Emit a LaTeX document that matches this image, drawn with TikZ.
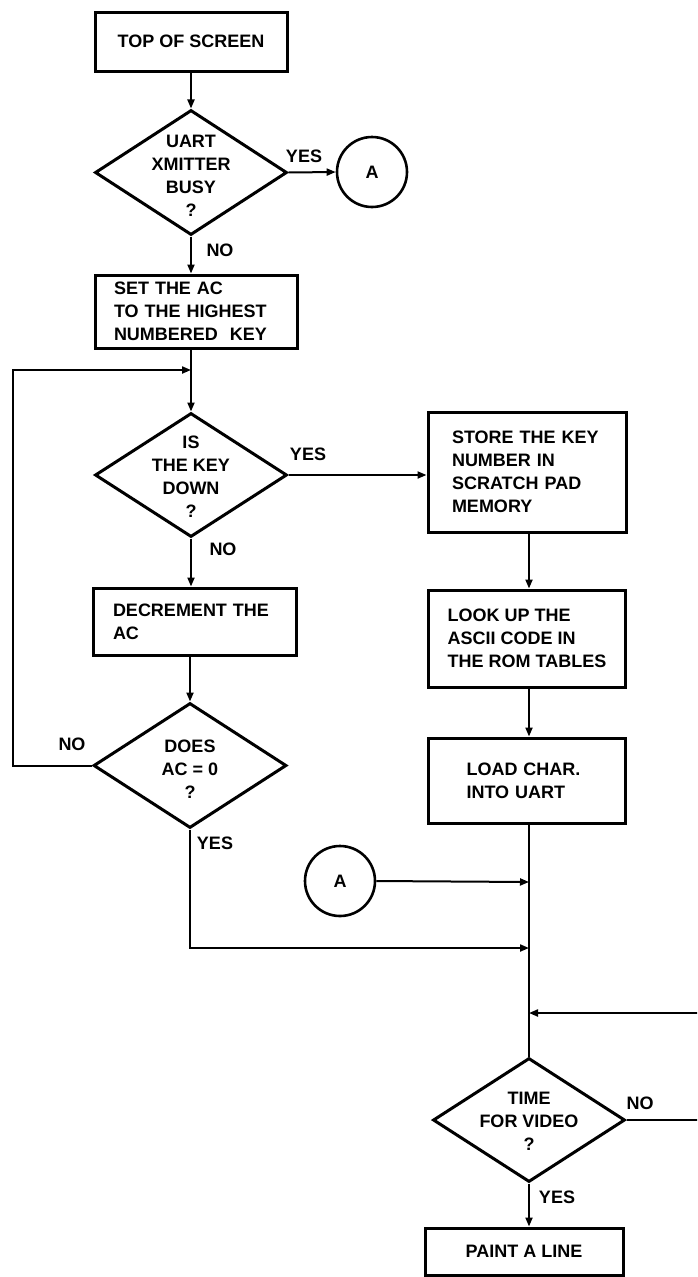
\documentclass[tikz,border=0pt]{standalone}
\usepackage{fontspec}
\setmainfont{Liberation Sans}
\usetikzlibrary{shapes.geometric,arrows.meta}
\begin{document}
\begin{tikzpicture}[x=1pt,y=-1pt,
  every node/.style={font=\bfseries\fontsize{18}{23}\selectfont},
  procbox/.style={draw, line width=3pt, rectangle, align=left, inner sep=0pt},
  dia/.style={draw, line width=3pt, diamond, inner sep=0pt},
  conn/.style={line width=2pt, -{Triangle[length=9pt,width=7pt]}},
  plainline/.style={line width=2pt},
  conncirc/.style={draw, circle, line width=2.6pt, minimum size=70pt, inner sep=0pt},
  lbl/.style={inner sep=0pt}]
\useasboundingbox (0,0) rectangle (697,1277);
\clip (0,0) rectangle (697,1277);

% nodes
\node[procbox, minimum width=192pt, minimum height=59pt] (top) at (191,41.5) {TOP OF SCREEN};
\node[dia, minimum width=192pt, minimum height=125pt] (d1) at (191,172.5) {};
\node[lbl, align=center] (d1t) at (191,176) {UART\\XMITTER\\BUSY\\?};
\node[conncirc] (ca1) at (372,172) {A};
\node[lbl] (y1) at (304,156) {YES};
\node[lbl] (n1) at (220,250) {NO};
\node[procbox, minimum width=202pt, minimum height=73pt, text width=164pt] (set) at (196,311.5) {SET THE AC\\TO THE HIGHEST\\NUMBERED\ \ KEY};
\coordinate (jl) at (191,370);
\node[dia, minimum width=192pt, minimum height=124pt] (d2) at (191,475) {};
\node[lbl, align=center] (d2t) at (191,476.5) {IS\\THE KEY\\DOWN\\?};
\node[lbl] (y2) at (308,454) {YES};
\node[lbl] (n2) at (223,549) {NO};
\node[procbox, minimum width=198pt, minimum height=120pt, text width=150pt] (store) at (527,472) {STORE THE KEY\\NUMBER IN\\SCRATCH PAD\\MEMORY};
\node[procbox, minimum width=203pt, minimum height=67pt, text width=163pt] (dec) at (194.5,621.5) {DECREMENT THE\\AC};
\node[dia, minimum width=193pt, minimum height=125pt] (d3) at (190,765.5) {};
\node[lbl, align=center] (d3t) at (190,769) {DOES\\AC = 0\\?};
\node[lbl] (n3) at (72,744) {NO};
\node[lbl] (y3) at (215,843) {YES};
\node[procbox, minimum width=197pt, minimum height=97pt] (look) at (527,638.5) {LOOK UP THE\\ASCII CODE IN\\THE ROM TABLES};
\node[procbox, minimum width=197pt, minimum height=85pt, text width=121pt] (load) at (527,780.5) {LOAD CHAR.\\INTO UART};
\node[conncirc] (ca2) at (340,881) {A};
\coordinate (jr1) at (529,882);
\coordinate (jr2) at (529,948);
\coordinate (jr3) at (529,1013);
\node[dia, minimum width=192pt, minimum height=124pt] (d4) at (529,1120) {};
\node[lbl, align=center] (d4t) at (529,1121.5) {TIME\\FOR VIDEO\\?};
\node[lbl] (n4) at (640,1103) {NO};
\node[lbl] (y4) at (557,1197) {YES};
\node[procbox, minimum width=198pt, minimum height=47pt] (paint) at (524,1251.5) {PAINT A LINE};
\coordinate (rr) at (708,1120);
\coordinate (ll) at (13,765.5);

% connectors
\draw[conn] (top) -- (d1);
\draw[conn] (d1.east) -- (ca1.west);
\draw[conn] (d1.south) -- (d1.south |- set.north);
\draw[conn] (set.south -| d2.north) -- (d2.north);
\draw[conn] (d3.west) -- (ll) |- (jl);
\draw[conn] (d2.east) -- (d2.east -| store.west);
\draw[conn] (d2.south) -- (d2.south |- dec.north);
\draw[conn] (dec.south -| d3.north) -- (d3.north);
\draw[conn] (store.south -| jr1) -- (look.north -| jr1);
\draw[conn] (look.south -| jr1) -- (load.north -| jr1);
\draw[plainline] (load.south -| jr1) -- (d4.north);
\draw[conn] (ca2.east) -- (jr1);
\draw[conn] (d3.south) |- (jr2);
\draw[conn] (d4.east) -- (rr) |- (jr3);
\draw[conn] (d4.south) -- (d4.south |- paint.north);
\end{tikzpicture}
\end{document}
